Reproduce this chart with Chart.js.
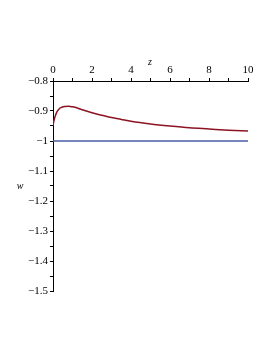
<!DOCTYPE html>
<html>
<head>
<meta charset="utf-8">
<script src="https://cdn.jsdelivr.net/npm/chart.js@4"></script>
<style>
  html, body { margin: 0; padding: 0; background: #fff; }
</style>
</head>
<body>
<canvas id="my_chart" width="273" height="353"></canvas>
<script>
// values
var z_values = [0, 0.05, 0.1, 0.2, 0.3, 0.4, 0.6, 0.8, 1, 1.25, 1.5, 2, 2.5, 3, 3.5, 4, 5, 6, 7, 8, 9, 10];
var w_values = [-0.949, -0.932, -0.92, -0.903, -0.894, -0.889, -0.885, -0.884, -0.886, -0.890, -0.896, -0.906, -0.914, -0.922, -0.928, -0.934, -0.943, -0.950, -0.956, -0.960, -0.964, -0.967];
var z_flat = [0, 10];
var w_flat = [-1, -1];

function to_points(xs, ys) {
  return xs.map((x, i) => ({x: x, y: ys[i]}));
}

function minus(v) {
  return String(v).replace('-', '\u2212');
}

const fontSpec = {family: '"Liberation Serif", "DejaVu Serif", serif', size: 11};

// axis names drawn as plain text, not rotated
const axisNames = {
  id: 'axisNames',
  afterDraw(chart) {
    const c = chart.ctx;
    c.save();
    c.fillStyle = '#000';
    c.font = 'italic 10px "Liberation Serif", serif';
    c.textAlign = 'center';
    c.textBaseline = 'middle';
    c.fillText('z', 150, 62);
    c.fillText('w', 20, 186);
    c.restore();
  }
};

ctx = document.getElementById("my_chart").getContext("2d");
my_chart = new Chart(ctx,
    {
        type: 'line',
        data: {
            datasets: [
                {
                    data: to_points(z_values, w_values),
                    borderColor: '#8c1422',
                    borderWidth: 1.5,
                    pointRadius: 0,
                    cubicInterpolationMode: 'monotone',
                },
                {
                    data: to_points(z_flat, w_flat),
                    borderColor: '#4a5ca8',
                    borderWidth: 1.4,
                    pointRadius: 0,
                }
            ]
        },
        options: {
            responsive: false,
            animation: false,
            layout: {padding: {left: 0, top: 0, right: 25, bottom: 62}},
            plugins: {
              legend: {display: false},
              tooltip: {enabled: false},
            },
            scales: {
              x: {
                type: 'linear',
                position: 'top',
                min: 0,
                max: 10,
                afterFit: (s) => { s.height = 81; },
                border: {display: true, color: '#000', width: 1},
                grid: {drawOnChartArea: false, drawTicks: true, tickLength: 3, color: '#000'},
                ticks: {
                  stepSize: 1,
                  autoSkip: false,
                  maxRotation: 0,
                  padding: 1,
                  color: '#000',
                  font: fontSpec,
                  callback: (v) => (v % 2 === 0 ? String(v) : '')
                }
              },
              y: {
                position: 'left',
                min: -1.5,
                max: -0.8,
                afterFit: (s) => { s.width = 53; },
                border: {display: true, color: '#000', width: 1},
                grid: {drawOnChartArea: false, drawTicks: true, tickLength: 3, color: '#000'},
                ticks: {
                  stepSize: 0.05,
                  autoSkip: false,
                  padding: 2,
                  color: '#000',
                  font: fontSpec,
                  callback: (v) => {
                    const n = Math.round(v * 100);
                    if (n % 10 !== 0) return '';
                    return minus(n / 100);
                  }
                }
              }
            }
        },
        plugins: [axisNames]
    }
);
</script>
</body>
</html>
